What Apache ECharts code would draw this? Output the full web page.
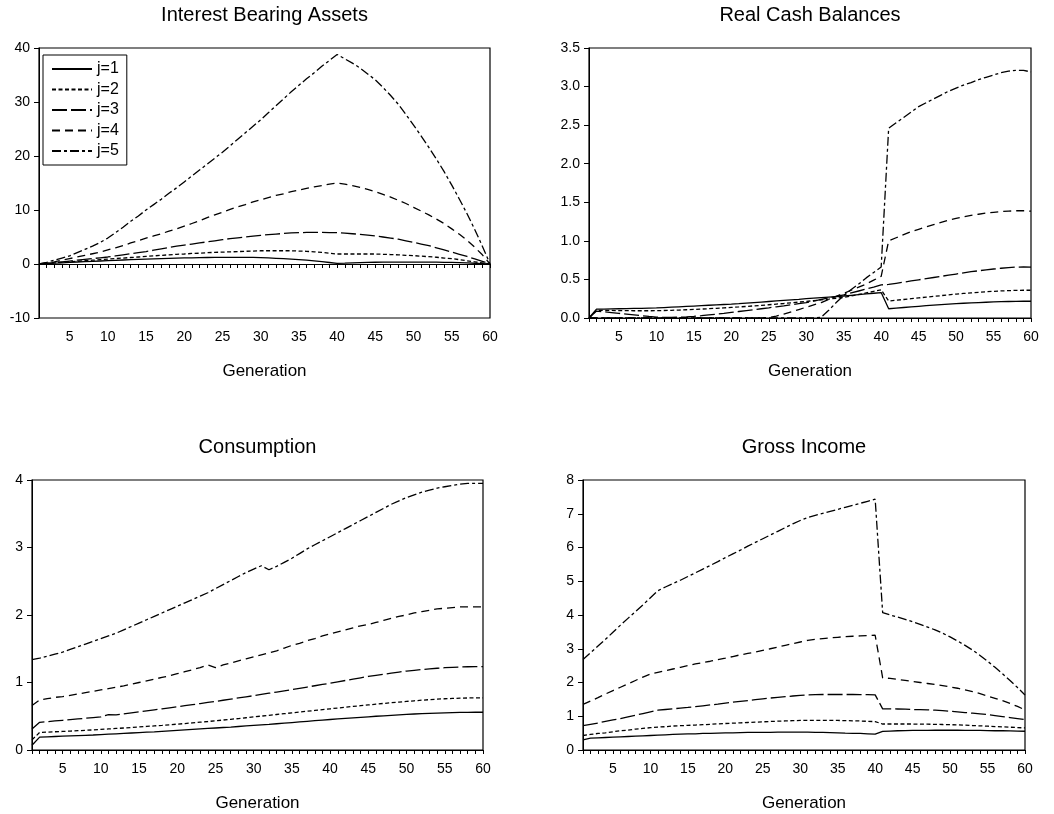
<!DOCTYPE html>
<html>
<head>
<meta charset="utf-8">
<title>Generations</title>
<script src="https://cdn.jsdelivr.net/npm/echarts@6/dist/echarts.min.js"></script>
<style>
    html, body { margin: 0; padding: 0; background: #fff; }
    #chart { width: 1054px; height: 814px; }
</style>
</head>
<body>
<div id="chart"></div>
<script>
// generation 1..60
var gens = ['1','2','3','4','5','6','7','8','9','10',
    '11','12','13','14','15','16','17','18','19','20',
    '21','22','23','24','25','26','27','28','29','30',
    '31','32','33','34','35','36','37','38','39','40',
    '41','42','43','44','45','46','47','48','49','50',
    '51','52','53','54','55','56','57','58','59','60'];

var names = ['j=1', 'j=2', 'j=3', 'j=4', 'j=5'];

// Interest Bearing Assets
var assets1 = [0, 0.08, 0.15, 0.22, 0.3, 0.37, 0.44, 0.5, 0.56, 0.62,
    0.68, 0.74, 0.8, 0.85, 0.9, 0.95, 1.0, 1.04, 1.08, 1.12,
    1.15, 1.18, 1.2, 1.22, 1.23, 1.24, 1.24, 1.23, 1.21, 1.18,
    1.13, 1.06, 0.98, 0.9, 0.82, 0.7, 0.57, 0.43, 0.28, 0.12,
    0.15, 0.2, 0.25, 0.3, 0.32, 0.34, 0.35, 0.36, 0.36, 0.36,
    0.35, 0.34, 0.33, 0.31, 0.29, 0.25, 0.2, 0.14, 0.07, 0];
var assets2 = [0, 0.1, 0.2, 0.3, 0.4, 0.5, 0.6, 0.7, 0.8, 0.9,
    1.0, 1.1, 1.2, 1.3, 1.4, 1.5, 1.6, 1.7, 1.8, 1.85,
    1.95, 2.0, 2.1, 2.15, 2.2, 2.25, 2.3, 2.35, 2.4, 2.45,
    2.45, 2.45, 2.45, 2.45, 2.4, 2.35, 2.25, 2.15, 2.0, 1.85,
    1.85, 1.85, 1.85, 1.85, 1.85, 1.8, 1.75, 1.7, 1.6, 1.55,
    1.45, 1.35, 1.25, 1.1, 1.0, 0.8, 0.6, 0.4, 0.2, 0];
var assets3 = [0, 0.1, 0.25, 0.4, 0.55, 0.7, 0.85, 1.0, 1.15, 1.3,
    1.5, 1.7, 1.9, 2.1, 2.3, 2.55, 2.8, 3.05, 3.3, 3.5,
    3.7, 3.9, 4.1, 4.3, 4.5, 4.7, 4.85, 5.0, 5.15, 5.3,
    5.45, 5.55, 5.65, 5.75, 5.8, 5.85, 5.85, 5.85, 5.8, 5.8,
    5.7, 5.6, 5.5, 5.35, 5.2, 5.0, 4.8, 4.6, 4.3, 4.0,
    3.7, 3.4, 3.0, 2.6, 2.2, 1.8, 1.4, 0.95, 0.5, 0];
var assets4 = [0, 0.2, 0.4, 0.7, 1.0, 1.3, 1.6, 1.9, 2.2, 2.6,
    3.0, 3.4, 3.9, 4.3, 4.8, 5.2, 5.6, 6.1, 6.5, 7.0,
    7.5, 8.0, 8.6, 9.1, 9.6, 10.1, 10.6, 11.0, 11.5, 11.9,
    12.3, 12.7, 13.0, 13.4, 13.7, 14.0, 14.3, 14.5, 14.8, 15.0,
    14.8, 14.5, 14.2, 13.8, 13.4, 12.9, 12.4, 11.8, 11.2, 10.5,
    9.8, 9.1, 8.3, 7.5, 6.5, 5.5, 4.4, 3.1, 1.7, 0];
var assets5 = [0, 0.3, 0.7, 1.1, 1.5, 2.1, 2.7, 3.3, 4.0, 4.8,
    5.8, 6.8, 7.9, 8.9, 10.0, 11.0, 12.0, 13.1, 14.1, 15.2,
    16.3, 17.4, 18.5, 19.6, 20.7, 21.9, 23.1, 24.3, 25.5, 26.7,
    28.0, 29.3, 30.6, 31.9, 33.1, 34.3, 35.4, 36.6, 37.7, 38.8,
    38.0, 37.2, 36.3, 35.2, 34.1, 32.7, 31.2, 29.6, 27.7, 25.7,
    23.7, 21.6, 19.4, 17.1, 14.6, 12.0, 9.3, 6.4, 3.3, 0];

// Real Cash Balances
var cash1 = [0, 0.115, 0.116, 0.118, 0.12, 0.122, 0.124, 0.126, 0.128, 0.13,
    0.135, 0.14, 0.145, 0.15, 0.155, 0.16, 0.165, 0.17, 0.175, 0.18,
    0.186, 0.193, 0.2, 0.207, 0.214, 0.221, 0.228, 0.235, 0.242, 0.25,
    0.257, 0.264, 0.271, 0.278, 0.285, 0.294, 0.303, 0.312, 0.321, 0.33,
    0.12, 0.128, 0.136, 0.144, 0.152, 0.16, 0.167, 0.174, 0.18, 0.186,
    0.191, 0.196, 0.2, 0.204, 0.208, 0.211, 0.214, 0.216, 0.217, 0.217];
var cash2 = [0, 0.1, 0.1, 0.098, 0.096, 0.095, 0.094, 0.094, 0.094, 0.095,
    0.097, 0.1, 0.103, 0.107, 0.111, 0.116, 0.121, 0.126, 0.131, 0.137,
    0.143, 0.15, 0.157, 0.164, 0.172, 0.18, 0.188, 0.197, 0.206, 0.215,
    0.225, 0.235, 0.245, 0.256, 0.267, 0.285, 0.305, 0.325, 0.345, 0.365,
    0.22, 0.23, 0.24, 0.25, 0.26, 0.27, 0.28, 0.29, 0.3, 0.31,
    0.318, 0.326, 0.333, 0.34, 0.346, 0.351, 0.355, 0.358, 0.36, 0.36];
var cash3 = [0, 0.09, 0.08, 0.07, 0.06, 0.05, 0.04, 0.03, 0.02, 0.012,
    0.008, 0.008, 0.01, 0.015, 0.022, 0.03, 0.04, 0.05, 0.06, 0.072,
    0.084, 0.096, 0.108, 0.12, 0.132, 0.145, 0.158, 0.172, 0.186, 0.2,
    0.22, 0.24, 0.26, 0.28, 0.3, 0.325, 0.35, 0.375, 0.4, 0.43,
    0.435, 0.45, 0.465, 0.48, 0.495, 0.51, 0.525, 0.54, 0.555, 0.57,
    0.585, 0.6, 0.612, 0.624, 0.635, 0.645, 0.653, 0.66, 0.662, 0.66];
var cash4 = [0, 0, 0, 0, 0, 0, 0, 0, 0, 0,
    0, 0, 0, 0, 0, 0, 0, 0, 0, 0,
    0, 0, 0, 0, 0.005, 0.025, 0.05, 0.08, 0.11, 0.14,
    0.17, 0.2, 0.24, 0.28, 0.32, 0.36, 0.4, 0.44, 0.49, 0.54,
    1.0, 1.04, 1.08, 1.12, 1.15, 1.18, 1.21, 1.24, 1.27, 1.29,
    1.31, 1.33, 1.345, 1.36, 1.37, 1.38, 1.385, 1.39, 1.39, 1.385];
var cash5 = [0, 0, 0, 0, 0, 0, 0, 0, 0, 0,
    0, 0, 0, 0, 0, 0, 0, 0, 0, 0,
    0, 0, 0, 0, 0, 0, 0, 0, 0, 0,
    0, 0.01, 0.1, 0.2, 0.29, 0.37, 0.44, 0.52, 0.59, 0.66,
    2.46, 2.53, 2.6, 2.67, 2.74, 2.79, 2.84, 2.89, 2.94, 2.98,
    3.02, 3.05, 3.09, 3.12, 3.15, 3.18, 3.2, 3.21, 3.21, 3.19];

// Consumption
var cons1 = [0.07, 0.19, 0.195, 0.2, 0.205, 0.21, 0.214, 0.218, 0.222, 0.228,
    0.234, 0.24, 0.246, 0.252, 0.258, 0.264, 0.27, 0.277, 0.284, 0.291,
    0.298, 0.305, 0.312, 0.319, 0.326, 0.333, 0.34, 0.348, 0.356, 0.364,
    0.372, 0.38, 0.389, 0.398, 0.407, 0.416, 0.425, 0.434, 0.443, 0.452,
    0.46, 0.468, 0.476, 0.484, 0.492, 0.5, 0.507, 0.514, 0.521, 0.527,
    0.533, 0.538, 0.543, 0.547, 0.551, 0.554, 0.556, 0.558, 0.559, 0.559];
var cons2 = [0.15, 0.26, 0.265, 0.27, 0.275, 0.28, 0.286, 0.292, 0.298, 0.305,
    0.312, 0.319, 0.326, 0.333, 0.341, 0.349, 0.357, 0.365, 0.374, 0.383,
    0.392, 0.402, 0.412, 0.422, 0.433, 0.444, 0.455, 0.466, 0.478, 0.49,
    0.502, 0.514, 0.526, 0.538, 0.55, 0.562, 0.574, 0.586, 0.598, 0.61,
    0.622, 0.634, 0.646, 0.657, 0.668, 0.679, 0.69, 0.7, 0.71, 0.72,
    0.729, 0.738, 0.746, 0.753, 0.759, 0.764, 0.768, 0.771, 0.772, 0.772];
var cons3 = [0.31, 0.41, 0.42, 0.43, 0.44, 0.45, 0.46, 0.47, 0.48, 0.49,
    0.525, 0.52, 0.535, 0.55, 0.565, 0.58, 0.595, 0.61, 0.625, 0.64,
    0.656, 0.672, 0.688, 0.704, 0.72, 0.737, 0.754, 0.771, 0.788, 0.805,
    0.823, 0.841, 0.859, 0.877, 0.895, 0.914, 0.933, 0.952, 0.971, 0.99,
    1.01, 1.03, 1.05, 1.07, 1.09, 1.106, 1.122, 1.138, 1.154, 1.17,
    1.181, 1.192, 1.202, 1.211, 1.219, 1.225, 1.23, 1.233, 1.235, 1.235];
var cons4 = [0.66, 0.74, 0.76, 0.78, 0.79, 0.81, 0.83, 0.85, 0.87, 0.89,
    0.91, 0.93, 0.95, 0.975, 1.0, 1.025, 1.05, 1.075, 1.1, 1.13,
    1.16, 1.19, 1.22, 1.26, 1.22, 1.26, 1.29, 1.32, 1.35, 1.38,
    1.41, 1.44, 1.47, 1.51, 1.55, 1.58, 1.62, 1.65, 1.69, 1.72,
    1.75, 1.78, 1.81, 1.84, 1.86, 1.89, 1.92, 1.95, 1.98, 2.0,
    2.03, 2.05, 2.07, 2.09, 2.1, 2.11, 2.12, 2.12, 2.12, 2.12];
var cons5 = [1.34, 1.36, 1.39, 1.42, 1.45, 1.49, 1.53, 1.57, 1.61, 1.65,
    1.69, 1.73, 1.78, 1.83, 1.88, 1.93, 1.98, 2.03, 2.08, 2.13,
    2.18, 2.23, 2.28, 2.33, 2.39, 2.45, 2.51, 2.57, 2.63, 2.68,
    2.73, 2.67, 2.72, 2.78, 2.84, 2.91, 2.98, 3.04, 3.1, 3.16,
    3.22, 3.28, 3.34, 3.4, 3.46, 3.52, 3.58, 3.64, 3.69, 3.74,
    3.78, 3.82, 3.85, 3.88, 3.9, 3.92, 3.94, 3.95, 3.95, 3.95];

// Gross Income
var income1 = [0.3, 0.35, 0.36, 0.37, 0.38, 0.39, 0.4, 0.41, 0.42, 0.43,
    0.44, 0.45, 0.46, 0.47, 0.475, 0.48, 0.49, 0.495, 0.5, 0.505,
    0.51, 0.515, 0.52, 0.52, 0.525, 0.525, 0.53, 0.53, 0.53, 0.53,
    0.53, 0.525, 0.52, 0.515, 0.51, 0.5, 0.495, 0.49, 0.48, 0.47,
    0.55, 0.56, 0.57, 0.575, 0.58, 0.58, 0.58, 0.585, 0.585, 0.585,
    0.585, 0.58, 0.58, 0.58, 0.575, 0.57, 0.57, 0.565, 0.56, 0.555];
var income2 = [0.43, 0.46, 0.49, 0.51, 0.54, 0.57, 0.59, 0.62, 0.64, 0.66,
    0.68, 0.69, 0.71, 0.72, 0.73, 0.74, 0.75, 0.76, 0.775, 0.785,
    0.795, 0.805, 0.815, 0.825, 0.835, 0.845, 0.855, 0.86, 0.87, 0.875,
    0.88, 0.88, 0.88, 0.875, 0.875, 0.87, 0.865, 0.86, 0.85, 0.84,
    0.77, 0.77, 0.77, 0.77, 0.77, 0.765, 0.765, 0.76, 0.755, 0.75,
    0.745, 0.735, 0.725, 0.715, 0.705, 0.695, 0.685, 0.675, 0.665, 0.655];
var income3 = [0.72, 0.76, 0.8, 0.85, 0.89, 0.93, 0.98, 1.03, 1.08, 1.13,
    1.18, 1.2, 1.22, 1.24, 1.26, 1.285, 1.31, 1.335, 1.36, 1.39,
    1.415, 1.44, 1.465, 1.49, 1.515, 1.54, 1.56, 1.58, 1.6, 1.62,
    1.635, 1.64, 1.645, 1.645, 1.645, 1.645, 1.645, 1.64, 1.64, 1.635,
    1.22, 1.22, 1.215, 1.21, 1.2, 1.195, 1.19, 1.18, 1.165, 1.15,
    1.13, 1.11, 1.09, 1.07, 1.05, 1.02, 0.99, 0.96, 0.93, 0.9];
var income4 = [1.35, 1.45, 1.55, 1.66, 1.76, 1.86, 1.96, 2.06, 2.16, 2.25,
    2.3, 2.35, 2.4, 2.45, 2.5, 2.55, 2.59, 2.63, 2.68, 2.72,
    2.77, 2.82, 2.86, 2.9, 2.95, 3.0, 3.05, 3.1, 3.15, 3.2,
    3.25, 3.28, 3.3, 3.32, 3.34, 3.36, 3.37, 3.38, 3.39, 3.4,
    2.14, 2.12, 2.09, 2.06, 2.03, 2.0, 1.97, 1.94, 1.91, 1.87,
    1.83, 1.78, 1.73, 1.67, 1.6, 1.53, 1.46, 1.38, 1.29, 1.19];
var income5 = [2.68, 2.88, 3.08, 3.28, 3.49, 3.7, 3.9, 4.1, 4.3, 4.51,
    4.72, 4.83, 4.93, 5.03, 5.14, 5.25, 5.36, 5.47, 5.58, 5.7,
    5.81, 5.92, 6.04, 6.15, 6.26, 6.37, 6.48, 6.59, 6.7, 6.8,
    6.89, 6.95, 7.01, 7.07, 7.13, 7.19, 7.25, 7.31, 7.37, 7.43,
    4.07, 4.0, 3.94, 3.87, 3.8, 3.72, 3.64, 3.56, 3.46, 3.35,
    3.23, 3.1, 2.96, 2.8, 2.63, 2.45, 2.26, 2.06, 1.85, 1.63];

var font = "'Liberation Sans', Arial, Helvetica, sans-serif";

// dash patterns for j=1..5
var dashes = ['solid', [4, 2.5], [15, 4], [8, 5], [9, 3, 3, 3]];

var panels = [
    { title: 'Interest Bearing Assets', data: [assets1, assets2, assets3, assets4, assets5], min: -10, max: 40, step: 10 },
    { title: 'Real Cash Balances', data: [cash1, cash2, cash3, cash4, cash5], min: 0, max: 3.5, step: 0.5 },
    { title: 'Consumption', data: [cons1, cons2, cons3, cons4, cons5], min: 0, max: 4, step: 1 },
    { title: 'Gross Income', data: [income1, income2, income3, income4, income5], min: 0, max: 8, step: 1 }
];

var grids = [
    { left: 39, top: 48, width: 451, height: 270 },
    { left: 589, top: 48, width: 442, height: 270 },
    { left: 32, top: 480, width: 451, height: 270 },
    { left: 583, top: 480, width: 442, height: 270 }
];

var titles = [], xAxes = [], yAxes = [], series = [];

for (var p = 0; p < panels.length; p++) {
    var g = grids[p];
    titles.push({
        text: panels[p].title,
        left: g.left + g.width / 2,
        top: g.top - 43,
        textAlign: 'center',
        padding: 0,
        textStyle: { fontSize: 20, fontWeight: 'normal', color: '#000', fontFamily: font }
    });
    xAxes.push({
        type: 'category',
        gridIndex: p,
        data: gens,
        boundaryGap: false,
        name: 'Generation',
        nameLocation: 'middle',
        nameGap: 45,
        nameTextStyle: { fontSize: 17, color: '#000', fontFamily: font },
        axisLine: { lineStyle: { color: '#000', width: 1 } },
        axisTick: { interval: 0, length: 4, lineStyle: { color: '#000' } },
        axisLabel: {
            interval: function (idx, val) { return Number(val) % 5 === 0; },
            color: '#000', fontSize: 14, margin: 12, fontFamily: font
        },
        splitLine: { show: false }
    });
    var isCash = p === 1;
    yAxes.push({
        type: 'value',
        gridIndex: p,
        min: panels[p].min,
        max: panels[p].max,
        interval: panels[p].step,
        axisLine: { show: true, lineStyle: { color: '#000', width: 1 } },
        axisTick: { show: true, length: 5, lineStyle: { color: '#000' } },
        axisLabel: {
            color: '#000', fontSize: 14, margin: 9, fontFamily: font,
            formatter: isCash ? function (v) { return v.toFixed(1); } : null
        },
        splitLine: { show: false }
    });
    for (var j = 0; j < 5; j++) {
        series.push({
            name: names[j],
            type: 'line',
            xAxisIndex: p,
            yAxisIndex: p,
            data: panels[p].data[j],
            symbol: 'none',
            smooth: false,
            lineStyle: { color: '#000', width: 1.3, type: dashes[j] },
            itemStyle: { color: '#000' }
        });
    }
}

var option = {
    animation: false,
    backgroundColor: '#fff',
    textStyle: { fontFamily: font },
    title: titles,
    legend: {
        data: names,
        orient: 'vertical',
        left: 43,
        top: 55,
        itemWidth: 40,
        itemHeight: 12,
        itemGap: 4.5,
        padding: [6, 8, 6, 8],
        borderColor: '#000',
        borderWidth: 1,
        selectedMode: false,
        itemStyle: { opacity: 0 },
        textStyle: { fontSize: 16, lineHeight: 16, color: '#000', fontFamily: font }
    },
    grid: grids.map(function (g) {
        return { left: g.left, top: g.top, width: g.width, height: g.height,
                 show: true, borderColor: '#000', borderWidth: 1.2 };
    }),
    xAxis: xAxes,
    yAxis: yAxes,
    series: series
};

var myChart = echarts.init(document.getElementById('chart'), null, { renderer: 'canvas' });
myChart.setOption(option);
</script>
</body>
</html>
